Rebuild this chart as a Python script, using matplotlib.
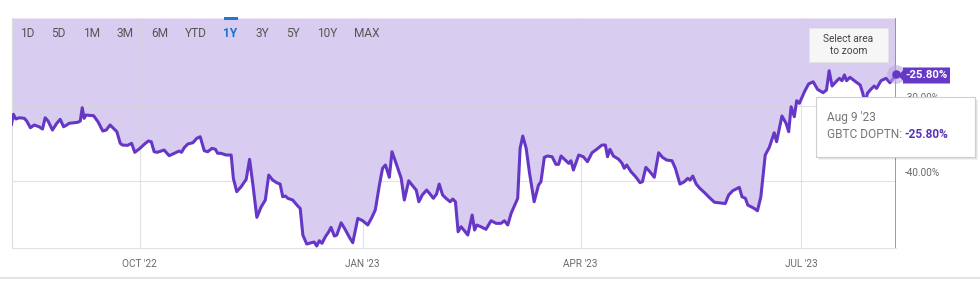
import matplotlib
matplotlib.use("Agg")
import matplotlib.pyplot as plt
import matplotlib.dates as mdates
from matplotlib.patches import Rectangle, FancyBboxPatch, Polygon
import pandas as pd
import numpy as np

plt.rcParams['font.family'] = ['Roboto', 'DejaVu Sans']

# ---- data: days after 2022-08-09, GBTC discount to NAV (%) ----
start_date = "2022-08-09"
days = [0, 0.8, 1.8, 3.2, 5.3, 6.3, 7.8, 9.4, 11.4, 12.8, 13.9, 15.1, 16.9, 18.7, 20.1, 21.5, 22.8, 23.8,
        27.3, 28.4, 29.2, 30.0, 30.7, 33.9, 35.7, 37.7, 39.1, 40.7, 42.4, 43.5, 44.9, 45.8, 47.9, 49.6,
        50.9, 52.7, 54.8, 56.5, 57.7, 58.9, 60.2, 63.0, 65.1, 67.2, 69.2, 70.2, 71.3, 72.8, 74.9, 76.5,
        77.9, 79.6, 81.0, 82.8, 84.2, 85.1, 86.5, 88.6, 90.7, 91.6, 93.0, 94.8, 96.9, 98.3, 99.6, 101.3,
        103.0, 104.8, 106.2, 107.8, 109.5, 110.9, 112.0, 113.1, 114.1, 116.1, 118.2, 119.2, 120.3, 121.9,
        123.8, 125.0, 126.0, 127.1, 128.2, 129.6, 131.0, 131.9, 133.3, 134.3, 136.1, 137.9, 139.5, 140.9,
        143.0, 145.0, 147.1, 148.8, 150.2, 151.9, 153.2, 154.4, 156.0, 157.1, 158.8, 160.9, 162.2, 164.0,
        165.7, 167.1, 168.2, 169.6, 171.4, 172.8, 174.2, 175.5, 176.6, 178.0, 179.4, 181.1, 182.2, 183.3,
        184.4, 185.6, 187.0, 188.4, 190.2, 191.2, 192.1, 193.8, 195.9, 198.0, 200.1, 202.1, 203.5, 204.9,
        206.3, 209.0, 210.0, 211.1, 212.5, 213.9, 215.8, 217.6, 218.6, 220.0, 221.3, 223.2, 224.8, 225.9,
        226.9, 228.3, 230.1, 231.0, 232.0, 234.2, 236.1, 237.8, 239.7, 241.6, 243.8, 245.2, 246.1, 247.1,
        248.5, 250.7, 252.1, 253.0, 254.0, 255.8, 257.9, 259.5, 260.5, 261.9, 263.6, 265.4, 267.2, 268.8,
        270.5, 272.7, 274.1, 276.0, 277.8, 279.2, 280.2, 281.3, 282.7, 284.2, 286.2, 287.8, 290.2, 292.3,
        294.7, 296.1, 297.8, 300.5, 301.6, 303.0, 304.0, 306.6, 308.0, 309.4, 311.2, 312.9, 314.9, 315.9,
        318.1, 319.8, 320.9, 321.9, 323.2, 324.2, 325.3, 327.4, 329.1, 331.0, 332.8, 335.1, 336.5, 337.6,
        338.8, 340.4, 341.8, 342.9, 343.9, 344.8, 346.2, 348.0, 350.4, 351.3, 352.5, 353.4, 354.8, 356.2,
        357.2, 359.0, 361.1, 362.7, 364.1, 365]
discount = [-32.51, -31.17, -31.80, -31.63, -31.71, -32.07, -32.96, -32.60, -32.83, -33.13, -31.63, -32.07,
            -33.27, -32.37, -31.84, -32.83, -32.60, -32.37, -32.24, -32.07, -30.29, -31.71, -31.27, -31.36,
            -32.16, -33.40, -33.27, -32.60, -33.13, -33.49, -35.04, -35.27, -35.31, -35.04, -36.24, -35.80,
            -35.17, -34.73, -34.83, -36.16, -36.24, -35.93, -36.69, -36.37, -36.07, -36.24, -35.63, -35.13,
            -34.96, -34.37, -34.16, -36.03, -36.16, -35.71, -35.84, -36.37, -36.37, -36.60, -36.60, -39.71,
            -41.49, -40.83, -39.84, -37.17, -40.37, -44.91, -43.57, -42.60, -39.27, -39.93, -40.29, -40.47,
            -42.16, -42.07, -42.37, -42.60, -43.40, -43.71, -47.27, -48.47, -48.29, -48.20, -48.73, -48.03,
            -48.37, -47.49, -46.83, -46.24, -47.40, -47.27, -45.63, -46.60, -47.57, -48.29, -45.04, -45.36,
            -45.93, -44.91, -43.93, -40.60, -38.37, -37.93, -39.57, -36.16, -37.71, -39.71, -42.60, -40.03,
            -40.73, -41.27, -42.83, -41.93, -41.27, -41.80, -42.37, -41.80, -40.47, -41.93, -42.37, -42.83,
            -42.47, -42.83, -46.83, -46.16, -46.69, -47.27, -44.60, -46.60, -45.93, -46.16, -46.51, -45.36,
            -45.71, -45.71, -45.36, -45.93, -44.37, -42.37, -35.71, -34.07, -35.71, -39.04, -42.83, -40.60,
            -40.16, -36.91, -36.73, -36.83, -37.84, -37.84, -36.73, -37.17, -37.71, -37.36, -38.60, -36.60,
            -36.83, -37.49, -36.29, -35.84, -35.27, -35.27, -36.83, -35.84, -36.73, -37.17, -37.71, -38.37,
            -37.93, -38.83, -39.57, -40.29, -40.16, -38.24, -38.83, -39.57, -36.29, -36.91, -37.27, -37.36,
            -38.37, -40.47, -40.16, -39.71, -39.93, -39.40, -40.47, -41.04, -41.63, -42.16, -42.89, -42.97,
            -43.07, -41.93, -41.36, -40.91, -42.16, -42.37, -43.27, -43.71, -44.03, -42.16, -36.60, -35.57,
            -33.63, -34.83, -31.40, -32.37, -33.49, -30.16, -31.49, -29.36, -29.71, -28.16, -27.13, -26.83,
            -27.84, -28.29, -27.93, -25.36, -27.40, -26.83, -26.37, -26.69, -25.93, -26.69, -26.24, -26.69,
            -27.27, -28.16, -29.71, -28.37, -27.84, -27.40, -27.71, -26.69, -26.37, -26.96, -26.37, -25.80]
x_ticks = ["2022-10-01", "2023-01-01", "2023-04-01", "2023-07-01"]
x_tick_labels = ["OCT '22", "JAN '23", "APR '23", "JUL '23"]
y_grid = [-20, -30, -40]
y_labels = {-30: "-30.00%", -40: "-40.00%"}
ranges = ["1D", "5D", "1M", "3M", "6M", "YTD", "1Y", "3Y", "5Y", "10Y", "MAX"]
range_x = [27, 58.5, 91.5, 125, 159.5, 196, 230.5, 262, 292.5, 327, 366.5]
last_label = "-25.80%"
tooltip_date = "Aug 9 '23"
series_name = "GBTC DOPTN: "

dates = pd.Timestamp(start_date) + pd.to_timedelta(days, unit="D")

W, H = 980, 281
fig = plt.figure(figsize=(W / 100, H / 100), dpi=100)
fig.patch.set_facecolor("white")

x0, x1 = 11.5, 896
y_top, y_bot = 18, 247.5
ax = fig.add_axes([x0 / W, 1 - y_bot / H, (x1 - x0) / W, (y_bot - y_top) / H])
ymin, ymax = -48.93, -18.33
ax.set_ylim(ymin, ymax)
ax.set_xlim(dates[0], dates[-1] + pd.Timedelta(days=0.2))

FILL = "#d8cdf1"
LINE = "#6637c6"
ax.fill_between(dates, discount, ymax, color=FILL, lw=0, zorder=1)
for g in y_grid:
    ax.axhline(g, color="#d6d6d6", lw=0.8, alpha=0.7, zorder=1.5)
for t in x_ticks:
    ax.axvline(pd.Timestamp(t), color="#d6d6d6", lw=0.8, alpha=0.7, zorder=1.5)
ax.plot(dates, discount, color=LINE, lw=2.2, zorder=3, solid_joinstyle="round")
ax.axvline(dates[-1], color="#8a8a8a", lw=1.2, zorder=2)

# end marker
ax.scatter([dates[-1]], [discount[-1]], s=180, color="#b9a6e6", alpha=0.6, zorder=4, lw=0, clip_on=False)
ax.scatter([dates[-1]], [discount[-1]], s=38, color=LINE, zorder=5, lw=0, clip_on=False)

ax.set_xticks([pd.Timestamp(t) for t in x_ticks])
ax.set_xticklabels(x_tick_labels)
ax.tick_params(axis="x", length=0, pad=8, labelsize=7.2, labelcolor="#6a6a6a")
ax.set_yticks([])
for s in ["top", "right"]:
    ax.spines[s].set_visible(False)
ax.spines["left"].set_color("#dcdcdc")
ax.spines["bottom"].set_color("#e2e2e2")
ax.spines["left"].set_linewidth(0.8)
ax.spines["bottom"].set_linewidth(0.8)

ytrans = ax.get_yaxis_transform()
for v, lab in y_labels.items():
    ax.text(1.0105, v + 1.0, lab, transform=ytrans, ha="left", va="center",
            fontsize=7.2, color="#6a6a6a", clip_on=False)

# overlay in pixel coordinates
ov = fig.add_axes([0, 0, 1, 1], zorder=10)
ov.set_xlim(0, W)
ov.set_ylim(H, 0)
ov.axis("off")
ov.patch.set_alpha(0)

# range selector
for lab, xx in zip(ranges, range_x):
    active = lab == "1Y"
    ov.text(xx, 33.5, lab, ha="center", va="center", fontsize=8.6,
            color="#1f6fc5" if active else "#555555", fontweight="bold" if active else "normal")
ov.add_patch(Rectangle((223.5, 17), 14.5, 3, color="#1f78d1", lw=0))

# select area box
ov.add_patch(Rectangle((809, 28), 79, 34, facecolor="#f6f6f6", edgecolor="#e4e4e4", lw=0.6))
ov.text(848.5, 39.5, "Select area", ha="center", va="center", fontsize=7.3, color="#444444")
ov.text(848.5, 51.5, "to zoom", ha="center", va="center", fontsize=7.3, color="#444444")

# last value label
ov.add_patch(Polygon([[898, 75.5], [903, 70.5], [903, 67.5], [950, 67.5], [950, 83.5], [903, 83.5], [903, 80.5]],
                     closed=True, facecolor="#6638c8", edgecolor="none"))
ov.text(926.5, 75.5, last_label, ha="center", va="center", fontsize=8.2, color="white", fontweight="bold")

# tooltip with shadow
for i, a in enumerate([0.05, 0.06, 0.08]):
    off = 3 - i
    ov.add_patch(Rectangle((816 + off, 97 + off), 159, 59.5, facecolor="black", alpha=a, lw=0))
ov.add_patch(Rectangle((816, 97), 159, 59.5, facecolor="white", edgecolor="#cfcfcf", lw=0.8))
ov.text(826.5, 117, tooltip_date, ha="left", va="center", fontsize=8.6, color="#777777")
t1 = ov.text(826.5, 135, series_name, ha="left", va="center", fontsize=8.6, color="#777777")
fig.canvas.draw()
bb = t1.get_window_extent()
xend = bb.x1  # pixels (figure coords, origin bottom-left)
ov.text(xend, 135, last_label, ha="left", va="center", fontsize=8.6, color="#5b34b8", fontweight="bold")

# bottom separator
ov.add_patch(Rectangle((0, 276.5), W, 2.5, facecolor="#e4e4e4", lw=0))

fig.savefig("out.png", dpi=100)
